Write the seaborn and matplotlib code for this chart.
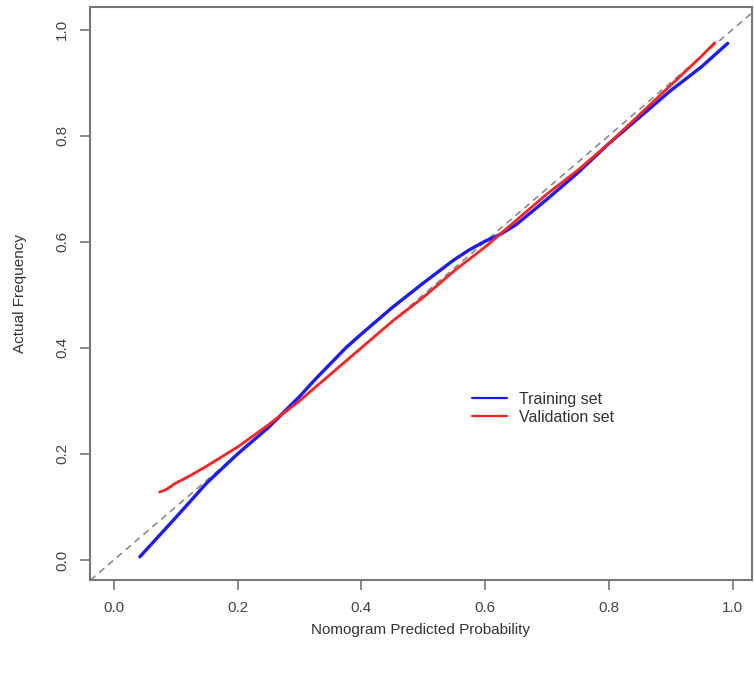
import numpy as np
import pandas as pd
import matplotlib
matplotlib.use("Agg")
import matplotlib.pyplot as plt
import seaborn as sns

# calibration curves
train_x = [0.042, 0.10, 0.15, 0.20, 0.25, 0.30, 0.325, 0.35, 0.375, 0.40, 0.45, 0.50,
           0.55, 0.575, 0.60, 0.625, 0.65, 0.70, 0.75, 0.80, 0.85, 0.90, 0.95, 0.992]
train_y = [0.006, 0.080, 0.145, 0.200, 0.250, 0.308, 0.340, 0.370, 0.400, 0.426, 0.476, 0.522,
           0.566, 0.585, 0.601, 0.614, 0.632, 0.680, 0.730, 0.785, 0.835, 0.885, 0.930, 0.974]

valid_x = [0.074, 0.085, 0.10, 0.125, 0.15, 0.20, 0.25, 0.30, 0.35, 0.40, 0.45, 0.50,
           0.55, 0.60, 0.65, 0.70, 0.75, 0.80, 0.85, 0.90, 0.95, 0.971]
valid_y = [0.128, 0.133, 0.145, 0.160, 0.177, 0.213, 0.255, 0.300, 0.350, 0.400, 0.450, 0.495,
           0.545, 0.590, 0.640, 0.690, 0.735, 0.785, 0.840, 0.895, 0.950, 0.975]

ticks = [0.0, 0.2, 0.4, 0.6, 0.8, 1.0]

sns.set_style("white")
plt.rcParams["font.family"] = ["Liberation Sans", "DejaVu Sans"]

fig = plt.figure(figsize=(7.54, 6.73), dpi=100)
ax = fig.add_axes([0.119, 0.138, 0.878, 0.852])

ax.axline((0, 0), (1, 1), color="#8a8a8a", linestyle=(0, (4, 3)), linewidth=1.2)

sns.lineplot(x=train_x, y=train_y, sort=False, color="#1a1aff", linewidth=2.4,
             label="Training set", ax=ax)
sns.lineplot(x=valid_x, y=valid_y, sort=False, color="#ff2020", linewidth=2.0,
             label="Validation set", ax=ax)
for line in ax.lines:
    line.set_solid_joinstyle("round")

ax.set_xlim(-0.039, 1.031)
ax.set_ylim(-0.038, 1.043)
ax.set_xticks(ticks)
ax.set_yticks(ticks)
ax.set_xticklabels([f"{t:.1f}" for t in ticks], color="#444444", fontsize=11)
ax.set_yticklabels([f"{t:.1f}" for t in ticks], color="#444444", fontsize=11,
                   rotation=90, va="center")
ax.tick_params(axis="both", direction="out", length=7, width=1.2, color="#777777",
               bottom=True, left=True, pad=8)

for s in ax.spines.values():
    s.set_color("#777777")
    s.set_linewidth(1.5)

ax.set_xlabel("Nomogram Predicted Probability", fontsize=11, color="#333333", labelpad=6)
ax.set_ylabel("Actual Frequency", fontsize=11, color="#333333", labelpad=20)

leg = ax.legend(loc="center left", bbox_to_anchor=(0.555, 0.30), frameon=False,
                fontsize=11.5, handlelength=2.2, handletextpad=0.8, labelspacing=0.2)
for t in leg.get_texts():
    t.set_color("#333333")
for h in leg.get_lines():
    h.set_linewidth(1.6)

plt.savefig("out.png", dpi=100)
